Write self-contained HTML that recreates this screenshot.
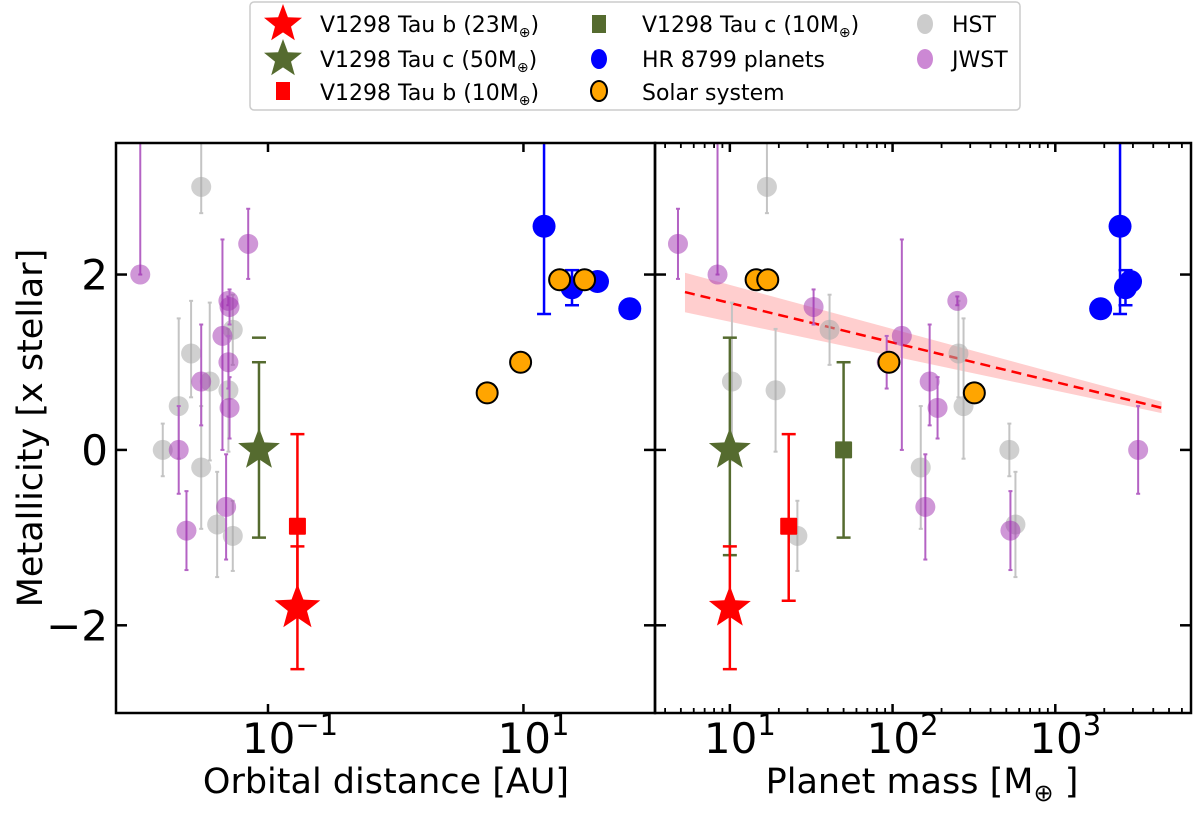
<!DOCTYPE html>
<html><head><meta charset="utf-8"><style>
body{margin:0;background:#fff;}
svg text{font-family:"DejaVu Sans","Liberation Sans",sans-serif;}
</style></head><body>
<svg id="fig" width="1200" height="808" xmlns="http://www.w3.org/2000/svg">
<g id="legend">
<rect x="250" y="2" width="770" height="108" rx="4" fill="#fff" stroke="#ccc" stroke-width="1.5"/>
<text x="320" y="32" font-size="22">V1298 Tau b (23M<tspan font-size="14" dy="5">⊕</tspan><tspan dy="-5">)</tspan></text>
<text x="320" y="67" font-size="22">V1298 Tau c (50M<tspan font-size="14" dy="5">⊕</tspan><tspan dy="-5">)</tspan></text>
<text x="320" y="100" font-size="22">V1298 Tau b (10M<tspan font-size="14" dy="5">⊕</tspan><tspan dy="-5">)</tspan></text>
<text x="642" y="32" font-size="22">V1298 Tau c (10M<tspan font-size="14" dy="5">⊕</tspan><tspan dy="-5">)</tspan></text>
<text x="642" y="67" font-size="22">HR 8799 planets</text>
<text x="642" y="100" font-size="22">Solar system</text>
<text x="952" y="32" font-size="22">HST</text>
<text x="952" y="67" font-size="22">JWST</text>
</g>
<g id="plot"></g>
<text x="386" y="793" font-size="35" text-anchor="middle">Orbital distance [AU]</text>
<text x="922" y="793" font-size="35" text-anchor="middle">Planet mass [M<tspan font-size="24" dy="8">⊕</tspan><tspan dy="-8"> ]</tspan></text>
<text transform="translate(42,428) rotate(-90)" font-size="35" text-anchor="middle">Metallicity [x stellar]</text>
</svg>
<script>
// ---- data ----
const hstDist = [0.015,0.020,0.025,0.030,0.030,0.035,0.040,0.049,0.053,0.053];
const hstMassR = [522,273,254,16.9,149,10.3,569,19.1,41,26];
const hstMet = [0.0,0.5,1.1,3.0,-0.2,0.78,-0.85,0.68,1.37,-0.98];
const hstErrLo = [0.3,0.6,0.5,0.3,0.7,0.9,0.6,0.7,0.4,0.4];
const hstErrHi = [0.3,1.0,0.6,1.0,0.7,0.9,0.6,0.7,0.4,0.4];
const jwstDist = [0.010,0.020,0.023,0.030,0.044,0.047,0.049,0.049,0.050,0.050,0.070];
const jwstMass = [8.4,3230,530,169,114,159,92,250,32.7,189,4.8];
const jwstMet = [2.0,0.0,-0.92,0.78,1.3,-0.65,1.0,1.7,1.63,0.48,2.35];
const jwstErrLo = [0.0,0.5,0.45,0.5,1.3,0.6,0.3,0.05,0.2,0.35,0.4];
const jwstErrHi = [1.8,0.5,0.45,0.65,1.1,0.6,0.3,0.05,0.2,0.35,0.4];
const hrDist = [14.5,24,38,68];
const hrMass = [2500,2700,2900,1900];
const hrMet = [2.55,1.85,1.92,1.61];
const hrErrLo = [1.0,0.2,0.0,0.0];
const hrErrHi = [1.2,0.2,0.0,0.0];
const solDist = [5.2,9.5,19.2,30.1];
const solMass = [318,95,14.5,17.1];
const solMet = [0.65,1.0,1.94,1.94];
const v1298Dist = [0.085,0.17,0.17,0.085];
const v1298Mass = [50,23,10,10];
const v1298Met = [0.0,-0.87,-1.8,0.0];
const v1298ErrLo = [1.0,0.85,0.7,1.2];
const v1298ErrHi = [1.0,1.05,0.7,1.28];
const trendX = [5.3,4500];
const trendY = [1.8,0.48];
const trendLo = [1.57,0.42];
const trendHi = [2.02,0.55];
const yTicks = [-2,0,2];
const xTicksL = [-1,1];
const xTicksR = [1,2,3];
// ---- scales ----
const T=143,B=713,L1=116,R1=655,L2=655,R2=1191;
const ymin=-3,ymax=3.5;
function Y(v){return B-(v-ymin)/(ymax-ymin)*(B-T);}
const l1min=-2.19,l1max=2.03,l2min=0.54,l2max=3.834;
function X1(v){return L1+(Math.log10(v)-l1min)/(l1max-l1min)*(R1-L1);}
function X2(v){return L2+(Math.log10(v)-l2min)/(l2max-l2min)*(R2-L2);}
const NS="http://www.w3.org/2000/svg";
const plot=document.getElementById('plot');
function mk(tag,at,parent){const e=document.createElementNS(NS,tag);for(const k in at)e.setAttribute(k,at[k]);(parent||plot).appendChild(e);return e;}
function clipY(v){return Math.max(T,Math.min(B,v));}
function ebar(x,y,lo,hi,col,cap,w){
  const y1=clipY(Y(y+hi)),y2=clipY(Y(y-lo));
  const l=mk('line',{x1:x,x2:x,y1:y1,y2:y2,stroke:col,'stroke-width':w||2});
  
  
  if(cap){[Y(y+hi),Y(y-lo)].forEach(cy=>{if(cy>=T&&cy<=B){const c=mk('line',{x1:x-cap,x2:x+cap,y1:cy,y2:cy,stroke:col,'stroke-width':w||2});
  
  }});}
}
function dot(x,y,r,fill,op,stroke,name){
  const c=mk('circle',{cx:x,cy:y,r:r,fill:fill,'fill-opacity':op,stroke:stroke||'none','stroke-width':2});
  
  
}
function starPath(cx,cy,R){let d='';for(let i=0;i<10;i++){const a=-Math.PI/2+i*Math.PI/5;const r=i%2?R*0.42:R;d+=(i?'L':'M')+(cx+r*Math.cos(a)).toFixed(1)+' '+(cy+r*Math.sin(a)).toFixed(1);}return d+'Z';}
function star(x,y,R,col,name){const p=mk('path',{d:starPath(x,y,R),fill:col});

}
function square(x,y,s,col,name){const p=mk('rect',{x:x-s/2,y:y-s/2,width:s,height:s,fill:col,rx:1});

}
// trend band (right)
const band=mk('polygon',{points:[X2(trendX[0])+','+Y(trendHi[0]),X2(trendX[1])+','+Y(trendHi[1]),X2(trendX[1])+','+Y(trendLo[1]),X2(trendX[0])+','+Y(trendLo[0])].join(' '),fill:'#ffb3b3','fill-opacity':0.65});


const tl=mk('line',{x1:X2(trendX[0]),y1:Y(trendY[0]),x2:X2(trendX[1]),y2:Y(trendY[1]),stroke:'#f00','stroke-width':2.5,'stroke-dasharray':'10,6'});


// HST
const gcol='#aaaaaa';
hstMet.forEach((m,i)=>{
  ebar(X1(hstDist[i]),m,hstErrLo[i],hstErrHi[i],'#c4c4c4',2,2);dot(X1(hstDist[i]),Y(m),10,gcol,0.55,null,'hst-point-left');
  ebar(X2(hstMassR[i]),m,hstErrLo[i],hstErrHi[i],'#c4c4c4',2,2);dot(X2(hstMassR[i]),Y(m),10,gcol,0.55,null,'hst-point-right');
});
// JWST
jwstMet.forEach((m,i)=>{
  ebar(X1(jwstDist[i]),m,jwstErrLo[i],jwstErrHi[i],'#b463c4',2,2);dot(X1(jwstDist[i]),Y(m),10,'#a030b0',0.5,null,'jwst-point-left');
  ebar(X2(jwstMass[i]),m,jwstErrLo[i],jwstErrHi[i],'#b463c4',2,2);dot(X2(jwstMass[i]),Y(m),10,'#a030b0',0.5,null,'jwst-point-right');
});
// HR 8799
hrMet.forEach((m,i)=>{
  if(hrErrLo[i]+hrErrHi[i]>0){ebar(X1(hrDist[i]),m,hrErrLo[i],hrErrHi[i],'#00f',7,2.5);ebar(X2(hrMass[i]),m,hrErrLo[i],hrErrHi[i],'#00f',7,2.5);}
  dot(X1(hrDist[i]),Y(m),11.5,'#00f',1,null,'hr8799-point-left');
  dot(X2(hrMass[i]),Y(m),11.5,'#00f',1,null,'hr8799-point-right');
});
// Solar system
solMet.forEach((m,i)=>{
  dot(X1(solDist[i]),Y(m),10.5,'#ffa500',1,'#000','solar-point-left');
  dot(X2(solMass[i]),Y(m),10.5,'#ffa500',1,'#000','solar-point-right');
});
// V1298 Tau (left panel)
const vcol=['#556b2f','#f00','#f00','#556b2f'];
const vkind=['star','square','star','square'];
const vnames=['v1298-c-50','v1298-b-10','v1298-b-23','v1298-c-10'];
v1298Met.forEach((m,i)=>{
  if(i<3){ebar(X1(v1298Dist[i]),m,v1298ErrLo[i],v1298ErrHi[i],vcol[i],7,2.5);
    if(i===0){const c=mk('line',{x1:X1(v1298Dist[i])-7,x2:X1(v1298Dist[i])+7,y1:Y(1.28),y2:Y(1.28),stroke:vcol[i],'stroke-width':2.5});
}
    if(vkind[i]==='star')star(X1(v1298Dist[i]),Y(m),i===2?24:22,vcol[i],vnames[i]+'-left');else square(X1(v1298Dist[i]),Y(m),17,vcol[i],vnames[i]+'-left');}
});
// right panel V1298
[[10,0.0,1.2,1.28,'#556b2f','star','v1298-c-50-right'],[10,-1.8,0.7,0.7,'#f00','star','v1298-b-23-right'],[23,-0.87,0.85,1.05,'#f00','square','v1298-b-10-right'],[50,0.0,1.0,1.0,'#556b2f','square','v1298-c-10-right']].forEach(p=>{
  ebar(X2(p[0]),p[1],p[2],p[3],p[4],7,2.5);
  if(p[5]==='star')star(X2(p[0]),Y(p[1]),22,p[4],p[6]);else square(X2(p[0]),Y(p[1]),17,p[4],p[6]);
});
// frames
[[L1,R1,'left'],[L2,R2,'right']].forEach(f=>{const r=mk('rect',{x:f[0],y:T,width:f[1]-f[0],height:B-T,fill:'none',stroke:'#000','stroke-width':2.5});

});
// y ticks
yTicks.forEach(v=>{
  const y=Y(v);
  [[L1,1],[R1,-1],[L2,1],[R2,-1]].forEach(s=>{const t=mk('line',{x1:s[0],x2:s[0]+s[1]*11,y1:y,y2:y,stroke:'#000','stroke-width':2.5});
  
  });
  const lab=mk('text',{x:L1-8,y:y+15,'font-size':42,'text-anchor':'end'});lab.textContent=(v<0?'\u2212':'')+Math.abs(v);
  
  
});
function xlabel(x,exp){const t=mk('text',{x:x,y:753,'font-size':42,'text-anchor':'middle'});


t.innerHTML='10<tspan font-size="29" dy="-18">'+exp+'</tspan>';}
xTicksL.forEach(e=>{const x=X1(Math.pow(10,e));
  [B,T].forEach((yy,k)=>{const t=mk('line',{x1:x,x2:x,y1:yy,y2:yy+(k?9:-9),stroke:'#000','stroke-width':2.5});
});
  xlabel(x+(e<0?22:10),e<0?'\u22121':String(e));});
for(let d=0;d<=4;d++)for(let k=1;k<10;k++){const v=k*Math.pow(10,d);const lv=Math.log10(v);if(lv<l2min||lv>l2max)continue;const x=X2(v);const len=k===1?9:5;
  [B,T].forEach((yy,j)=>{const t=mk('line',{x1:x,x2:x,y1:yy,y2:yy+(j?len:-len),stroke:'#000','stroke-width':k===1?2.5:1.8});
});}
xTicksR.forEach(e=>xlabel(X2(Math.pow(10,e))+10,String(e)));
// legend markers
const lg=document.getElementById('legend');
function lmk(tag,at){return mk(tag,at,lg);}
let e;
e=lmk('path',{d:starPath(283,24,20),fill:'#f00'});
e=lmk('path',{d:starPath(283,59,20),fill:'#556b2f'});
e=lmk('rect',{x:276,y:82,width:14,height:18,fill:'#f00'});
e=lmk('rect',{x:592,y:15,width:14,height:18,fill:'#556b2f'});
e=lmk('ellipse',{cx:599,cy:59,rx:8,ry:10,fill:'#00f'});
e=lmk('ellipse',{cx:599,cy:91,rx:8,ry:10,fill:'#ffa500',stroke:'#000','stroke-width':2});
e=lmk('ellipse',{cx:925,cy:24,rx:8,ry:10,fill:'#ccc'});
e=lmk('ellipse',{cx:925,cy:59,rx:8,ry:10,fill:'#cc88d4'});
</script>
</body></html>
